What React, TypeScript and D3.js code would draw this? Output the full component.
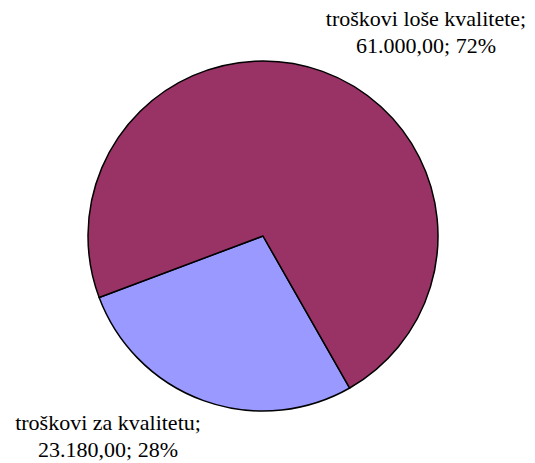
import React from "react";
import * as d3 from "d3";

const categories = ["troškovi za kvalitetu", "troškovi loše kvalitete"];
const values = [23180, 61000];
const valueLabels = ["23.180,00", "61.000,00"];
const percentLabels = ["28%", "72%"];
const colors = ["#9999FF", "#993366"];

export default function App() {
  const width = 535;
  const height = 463;
  const cx = 263;
  const cy = 236;
  const r = 175;
  const start = (150.3 * Math.PI) / 180;
  const pie = d3
    .pie<number>()
    .sort(null)
    .startAngle(start)
    .endAngle(start + 2 * Math.PI);
  const arcs = pie(values);
  const arc = d3.arc<d3.PieArcDatum<number>>().innerRadius(0).outerRadius(r);
  const labelPos = [
    { x: 108, y: 430 },
    { x: 426, y: 26 },
  ];
  return (
    <svg
      width={width}
      height={height}
      style={{ position: "absolute", left: 0, top: 0 }}
    >
      <rect width={width} height={height} fill="#fff" />
      <g transform={`translate(${cx},${cy})`}>
        {arcs.map((a, i) => (
          <path
            key={i}
            d={arc(a) || ""}
            fill={colors[i]}
            stroke="#000"
            strokeWidth={1.5}
            strokeLinejoin="round"
          />
        ))}
      </g>
      {categories.map((c, i) => (
        <text
          key={c}
          x={labelPos[i].x}
          y={labelPos[i].y}
          textAnchor="middle"
          fontSize={22}
          style={{ fontFamily: "Liberation Serif" }}
          fill="#000"
        >
          <tspan x={labelPos[i].x}>{c};</tspan>
          <tspan x={labelPos[i].x} dy={27}>
            {valueLabels[i]}; {percentLabels[i]}
          </tspan>
        </text>
      ))}
    </svg>
  );
}
